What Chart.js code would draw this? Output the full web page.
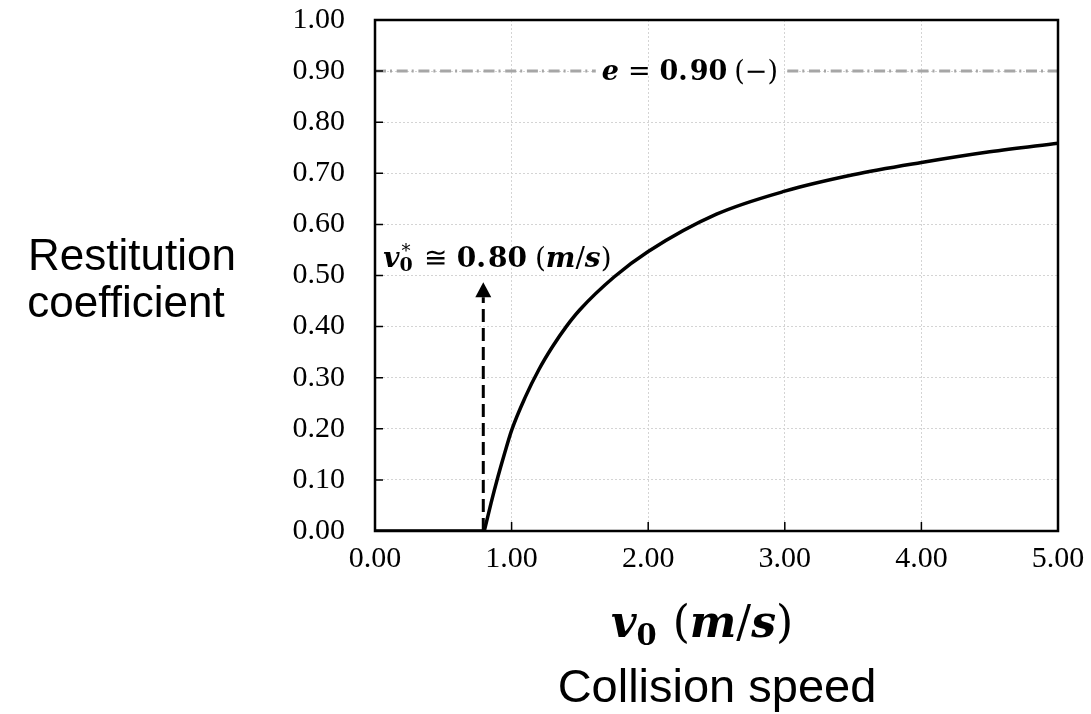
<!DOCTYPE html>
<html>
<head>
<meta charset="utf-8">
<script src="https://cdn.jsdelivr.net/npm/chart.js@4.4.1/dist/chart.umd.min.js"></script>
<style>
  html, body { margin: 0; padding: 0; background: #fff; }
  #wrap { width: 1091px; height: 714px; }
</style>
</head>
<body>
<div id="wrap"><canvas id="chart" width="1091" height="714"></canvas></div>
<script>
// DATA
const flatSpeed = [0, 0.8];
const flatRestitution = [0, 0];
const curveSpeed = [0.8, 0.85, 0.9, 0.95, 1.0, 1.1, 1.2, 1.3, 1.4, 1.5, 1.75, 2.0, 2.5, 3.0, 3.5, 4.0, 4.5, 5.0];
const curveRestitution = [0, 0.055, 0.106, 0.153, 0.197, 0.262, 0.316, 0.361, 0.400, 0.433, 0.497, 0.547, 0.620, 0.665, 0.697, 0.721, 0.742, 0.759];
const xTickValues = [0, 1, 2, 3, 4, 5];
const yTickValues = [0, 0.1, 0.2, 0.3, 0.4, 0.5, 0.6, 0.7, 0.8, 0.9, 1.0];
const limitE = 0.90;          // dashed reference line
const criticalSpeed = 0.80;   // v0*
const arrowTopE = 0.487;      // tip of the arrow

const SERIF = '"Liberation Serif", "Times New Roman", serif';
const MATH = '"DejaVu Serif", serif';
const SANS = '"Liberation Sans", Arial, sans-serif';

function toPoints(xs, ys) {
  return xs.map((x, i) => ({ x: x, y: ys[i] }));
}

// mixed-font text runs
function richWidth(ctx, parts) {
  let total = 0;
  parts.forEach(p => {
    ctx.font = p.f;
    total += ctx.measureText(p.t).width + (p.gap || 0);
  });
  return total;
}
function drawRich(ctx, parts, left, baseY) {
  let x = left;
  parts.forEach(p => {
    ctx.font = p.f;
    const w = ctx.measureText(p.t).width;
    ctx.fillText(p.t, x, baseY + (p.dy || 0));
    if (p.sup) {
      ctx.font = p.sup.f;
      ctx.fillText(p.sup.t, x + (w - ctx.measureText(p.sup.t).width) / 2, baseY + p.sup.dy);
    }
    x += w + (p.gap || 0);
  });
  return x - left;
}

const annotations = {
  id: 'annotations',
  beforeDatasetsDraw(chart) {
    const { ctx, chartArea: a, scales: { x, y } } = chart;
    ctx.save();
    ctx.textAlign = 'left';
    ctx.textBaseline = 'alphabetic';

    // e = 0.90 dashed line
    const yE = y.getPixelForValue(limitE);
    ctx.strokeStyle = '#a6a6a6';
    ctx.lineWidth = 3;
    ctx.setLineDash([11, 4, 2, 4.7]);
    ctx.beginPath();
    ctx.moveTo(a.left, yE);
    ctx.lineTo(a.right, yE);
    ctx.stroke();
    ctx.setLineDash([]);

    // label for e
    const eParts = [
      { t: 'e', f: 'bold italic 27px ' + MATH, gap: 9 },
      { t: '=', f: '27px ' + MATH, gap: 9 },
      { t: '0.', f: 'bold 27px ' + MATH, gap: 2 },
      { t: '90', f: 'bold 27px ' + MATH, gap: 7 },
      { t: '(−)', f: '27px ' + MATH }
    ];
    const eLeft = x.getPixelForValue(1.66);
    const eW = richWidth(ctx, eParts);
    ctx.fillStyle = '#fff';
    ctx.fillRect(eLeft - 6, yE - 4, eW + 12, 8);
    ctx.fillStyle = '#000';
    drawRich(ctx, eParts, eLeft, yE + 9);

    // dashed arrow at v0*
    const xv = x.getPixelForValue(criticalSpeed) - 1;
    const yTip = y.getPixelForValue(arrowTopE);
    ctx.strokeStyle = '#000';
    ctx.lineWidth = 3;
    ctx.setLineDash([13, 6]);
    ctx.beginPath();
    ctx.moveTo(xv, y.getPixelForValue(0));
    ctx.lineTo(xv, yTip + 15);
    ctx.stroke();
    ctx.setLineDash([]);
    ctx.beginPath();
    ctx.moveTo(xv, yTip);
    ctx.lineTo(xv - 8, yTip + 15);
    ctx.lineTo(xv + 8, yTip + 15);
    ctx.closePath();
    ctx.fill();

    // label for v0*
    const vParts = [
      { t: 'v', f: 'bold italic 28px ' + MATH, gap: 0 },
      { t: '0', f: 'bold 19px ' + MATH, dy: 4, gap: 11,
        sup: { t: '*', f: '18px ' + MATH, dy: -10 } },
      { t: '≅', f: '28px ' + MATH, gap: 10 },
      { t: '0.', f: 'bold 28px ' + MATH, gap: 2 },
      { t: '80', f: 'bold 28px ' + MATH, gap: 8 },
      { t: '(', f: '28px ' + MATH, gap: 0 },
      { t: 'm', f: 'bold italic 28px ' + MATH, gap: 0 },
      { t: '/', f: '28px ' + MATH, gap: 0 },
      { t: 's', f: 'bold italic 28px ' + MATH, gap: 0 },
      { t: ')', f: '28px ' + MATH }
    ];
    drawRich(ctx, vParts, x.getPixelForValue(0.06), y.getPixelForValue(0.5) - 9);

    ctx.restore();
  },
  afterDatasetsDraw(chart) {
    const { ctx, chartArea: a, scales: { x, y } } = chart;
    ctx.save();
    ctx.strokeStyle = '#000';
    ctx.lineWidth = 1.5;
    // inward ticks
    ctx.beginPath();
    xTickValues.forEach(v => {
      const px = x.getPixelForValue(v);
      ctx.moveTo(px, a.bottom);
      ctx.lineTo(px, a.bottom - 9);
    });
    yTickValues.forEach(v => {
      const py = y.getPixelForValue(v);
      ctx.moveTo(a.left, py);
      ctx.lineTo(a.left + 8, py);
    });
    ctx.stroke();
    // frame
    ctx.lineWidth = 2.5;
    ctx.strokeRect(a.left, a.top, a.right - a.left, a.bottom - a.top);
    ctx.restore();
  },
  afterDraw(chart) {
    const { ctx } = chart;
    ctx.save();
    ctx.fillStyle = '#000';
    ctx.textAlign = 'center';
    ctx.textBaseline = 'alphabetic';
    ctx.font = '44px ' + SANS;
    ctx.fillText('Restitution', 132, 270);
    ctx.fillText('coefficient', 126, 317);
    ctx.font = '47px ' + SANS;
    ctx.fillText('Collision speed', 717, 702);
    ctx.textAlign = 'left';
    const tParts = [
      { t: 'v', f: 'bold italic 44px ' + MATH, gap: 0 },
      { t: '0', f: 'bold 29px ' + MATH, dy: 8, gap: 16 },
      { t: '(', f: '44px ' + MATH, gap: 0 },
      { t: 'm', f: 'bold italic 44px ' + MATH, gap: 0 },
      { t: '/', f: '44px ' + MATH, gap: 0 },
      { t: 's', f: 'bold italic 44px ' + MATH, gap: 0 },
      { t: ')', f: '44px ' + MATH }
    ];
    const w = richWidth(ctx, tParts);
    drawRich(ctx, tParts, 702 - w / 2, 637);
    ctx.restore();
  }
};

new Chart(document.getElementById('chart'), {
  type: 'line',
  data: {
    datasets: [
      {
        data: toPoints(flatSpeed, flatRestitution),
        borderColor: '#000',
        borderWidth: 3.5,
        pointRadius: 0
      },
      {
        data: toPoints(curveSpeed, curveRestitution),
        borderColor: '#000',
        borderWidth: 3.5,
        pointRadius: 0,
        cubicInterpolationMode: 'monotone'
      }
    ]
  },
  options: {
    responsive: false,
    animation: false,
    layout: { padding: { left: 0, right: 33, top: 20, bottom: 0 } },
    plugins: { legend: { display: false }, tooltip: { enabled: false } },
    scales: {
      x: {
        type: 'linear',
        min: 0,
        max: 5,
        afterFit: s => { s.height = 183; s.paddingLeft = 0; s.paddingRight = 0; },
        grid: { color: '#d4d4d4', lineWidth: 1, drawTicks: false },
        border: { display: false, dash: [2, 2] },
        ticks: {
          stepSize: 1,
          padding: 10,
          color: '#000',
          font: { family: SERIF, size: 30 },
          maxRotation: 0,
          callback: v => v.toFixed(2)
        }
      },
      y: {
        min: 0,
        max: 1,
        afterFit: s => { s.width = 375; s.paddingTop = 0; s.paddingBottom = 0; },
        grid: { color: '#d4d4d4', lineWidth: 1, drawTicks: false },
        border: { display: false, dash: [2, 2] },
        ticks: {
          stepSize: 0.1,
          padding: 30,
          color: '#000',
          font: { family: SERIF, size: 30 },
          callback: v => v.toFixed(2)
        }
      }
    }
  },
  plugins: [annotations]
});
</script>
</body>
</html>
